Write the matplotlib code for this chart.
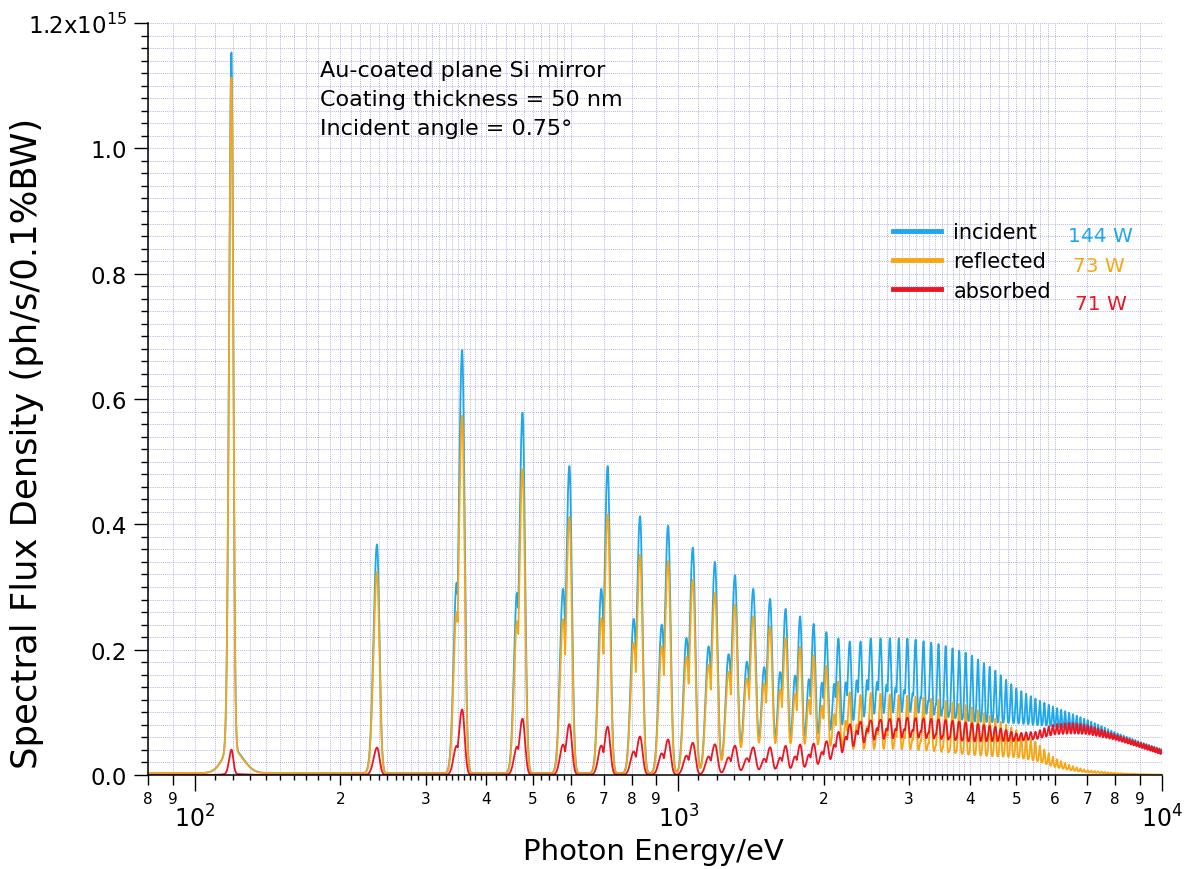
import numpy as np
import matplotlib
matplotlib.use("Agg")
import matplotlib.pyplot as plt
from matplotlib.ticker import FixedLocator, FixedFormatter

# ---- values (flux in units of 1e15 ph/s/0.1%BW) ----
E1_EV = 119.0  # fundamental harmonic energy

# incident peak height of harmonics n = 1..20
INC_PEAK_LOW = [1.15, 0.365, 0.675, 0.575, 0.49, 0.49, 0.41, 0.395, 0.36, 0.337,
                0.316, 0.294, 0.278, 0.262, 0.25, 0.238, 0.225, 0.215, 0.21, 0.21]
# relative height of the low-energy shoulder of each harmonic, n = 1..20
SHOULDER_LOW = [0.0, 0.0, 0.45, 0.5, 0.6, 0.6, 0.6, 0.6, 0.6, 0.6,
                0.6, 0.6, 0.6, 0.6, 0.6, 0.6, 0.6, 0.6, 0.6, 0.6]

# incident peak envelope above n = 20
ENV_E = [2400, 3000, 3500, 4000, 4500, 5000, 5500, 6000, 6500, 7000, 7500, 8000, 9000, 10000]
ENV_PEAK = [0.215, 0.215, 0.205, 0.19, 0.165, 0.135, 0.118, 0.105, 0.095, 0.085, 0.075,
            0.065, 0.05, 0.038]

# incident floor between overlapping harmonics
FLOOR_E = [1200, 1500, 1800, 2000, 2200, 2500, 3000, 4000, 5000, 6000, 7000, 8000, 9000, 10000]
FLOOR = [0.0, 0.008, 0.018, 0.03, 0.05, 0.07, 0.08, 0.08, 0.078, 0.074, 0.066, 0.055,
         0.042, 0.03]

# mirror reflectivity (reflected / incident)
REFL_E = [80, 119, 240, 360, 470, 600, 1000, 1500, 2000, 2150, 2300, 2500, 3000, 4000,
          4500, 5000, 5500, 6000, 6500, 7000, 8000, 9000, 10000]
REFL_R = [0.97, 0.965, 0.88, 0.845, 0.845, 0.835, 0.86, 0.85, 0.78, 0.68, 0.6, 0.6, 0.58,
          0.57, 0.54, 0.52, 0.43, 0.25, 0.15, 0.09, 0.05, 0.03, 0.02]
# reflectivity is lower between overlapping harmonics
DIP_E = [1800, 2500, 10000]
DIP = [0.0, 0.35, 0.35]

SERIES = ["incident", "reflected", "absorbed"]
POWER = ["144 W", "73 W", "71 W"]
COLORS = ["#1ea8ec", "#f7a614", "#ec1620"]
NOTE = ["Au-coated plane Si mirror", "Coating thickness = 50 nm", "Incident angle = 0.75\u00b0"]

Y_TICKS = [0.0, 0.2, 0.4, 0.6, 0.8, 1.0, 1.2]
Y_LABELS = ["0.0", "0.2", "0.4", "0.6", "0.8", "1.0", r"1.2x10$^{\mathregular{15}}$"]
X_DECADES = [1e2, 1e3, 1e4]
X_DIGITS = [80, 90] + [m * d for d in (100, 1000) for m in range(2, 10)]
X_SUBS = [1.1, 1.2, 1.3, 1.4, 1.5, 1.6, 1.7, 1.8, 1.9, 2.1, 2.2, 2.3, 2.4, 2.5, 2.6, 2.7,
          2.8, 2.9, 3.1, 3.2, 3.3, 3.4, 3.5, 3.6, 3.7, 3.8, 3.9, 4.2, 4.4, 4.6, 4.8, 5.2,
          5.4, 5.6, 5.8]

BASE_AMP = 0.04  # broad base under the fundamental


def loginterp(e, xp, fp):
    return np.interp(np.log10(e), np.log10(xp), fp)


def line_shape(E, n):
    # asymmetric harmonic line: sharp high-energy edge, shoulder on the low side
    d = E / (n * E1_EV) - 1.0
    k = min(1.0, 12.0 / n)
    if n == 1:
        s_hi, s_lo = 0.009, 0.011
    else:
        s_hi, s_lo = 0.012 * k, 0.016 * k
    y = np.where(d > 0, np.exp(-0.5 * (d / s_hi) ** 2), np.exp(-0.5 * (d / s_lo) ** 2))
    if n <= len(SHOULDER_LOW):
        sh = SHOULDER_LOW[n - 1]
    else:
        sh = max(0.0, 0.6 * (35 - n) / 15)
    if sh > 0:
        off = 0.026 if n <= 4 else 0.03
        y = np.maximum(y, sh * np.exp(-0.5 * ((d + off * k) / (0.014 * k)) ** 2))
    return y


def build_spectra(E):
    floor = np.where(E < FLOOR_E[0], 0.0, loginterp(E, FLOOR_E, FLOOR))
    inc = floor.copy()
    comb = np.zeros_like(E)
    n_max = int(1e4 / E1_EV) + 2
    for n in range(1, n_max + 1):
        En = n * E1_EV
        amp = INC_PEAK_LOW[n - 1] if n <= len(INC_PEAK_LOW) else loginterp(En, ENV_E, ENV_PEAK)
        f0 = 0.0 if En < FLOOR_E[0] else loginterp(En, FLOOR_E, FLOOR)
        if n == 1:
            amp -= BASE_AMP
        shape = line_shape(E, n)
        inc += max(amp - f0, 0.0) * shape
        comb += shape
    d1 = E / E1_EV - 1.0
    inc += BASE_AMP * np.where(d1 > 0, np.exp(-0.5 * (d1 / 0.055) ** 2),
                               np.exp(-0.5 * (d1 / 0.04) ** 2))
    inc += 0.003
    comb = np.clip(comb, 0, 1)
    dip = np.where(E < DIP_E[0], 0.0, loginterp(E, DIP_E, DIP))
    R = loginterp(E, REFL_E, REFL_R) * (1 - dip * (1 - comb))
    refl = inc * R
    absb = inc - refl
    return inc * 1e15, refl * 1e15, absb * 1e15


def main():
    plt.rcParams["font.family"] = ["DejaVu Sans"]
    plt.rcParams["mathtext.default"] = "regular"

    W, H = 1184, 870
    fig = plt.figure(figsize=(W / 100, H / 100), dpi=100)
    ax = fig.add_axes([148 / W, 1 - 776 / H, (1162 - 148) / W, (776 - 24) / H])

    E = np.geomspace(80, 1e4, 30000)
    curves = build_spectra(E)
    handles = []
    for y, c, lab in zip(curves, COLORS, SERIES):
        h, = ax.plot(E, y, color=c, lw=1.3, label=lab)
        handles.append(h)

    ax.set_xscale("log")
    ax.set_xlim(80, 1e4)
    ax.set_ylim(0, 1.2e15)

    # ---- y axis ----
    ax.yaxis.set_major_locator(FixedLocator([v * 1e15 for v in Y_TICKS]))
    ax.yaxis.set_major_formatter(FixedFormatter(Y_LABELS))
    ax.yaxis.set_minor_locator(FixedLocator(np.arange(0, 1.2001, 0.02) * 1e15))
    ax.tick_params(axis="y", which="major", length=10, width=1, labelsize=16.5, pad=5)
    ax.tick_params(axis="y", which="minor", length=5, width=1)

    # ---- x axis: decades, digits, sub ticks ----
    minors = sorted(X_DIGITS + [m * d for d in (100, 1000) for m in X_SUBS])
    minor_labels = []
    for v in minors:
        if v in X_DIGITS:
            minor_labels.append(str(int(round(v / 10 ** np.floor(np.log10(v))))))
        else:
            minor_labels.append("")
    ax.xaxis.set_major_locator(FixedLocator(X_DECADES))
    ax.xaxis.set_major_formatter(FixedFormatter([r"10$^{%d}$" % int(np.log10(v)) for v in X_DECADES]))
    ax.xaxis.set_minor_locator(FixedLocator(minors))
    ax.xaxis.set_minor_formatter(FixedFormatter(minor_labels))
    ax.tick_params(axis="x", which="major", length=11.5, width=1, labelsize=17, pad=10)
    ax.tick_params(axis="x", which="minor", length=7.2, width=1, labelsize=11, pad=4.5)
    for tk, v in zip(ax.xaxis.get_minor_ticks(len(minors)), minors):
        if v not in X_DIGITS:
            tk.tick1line.set_markersize(3.6)

    for side in ("top", "right"):
        ax.spines[side].set_visible(False)
    for side in ("left", "bottom"):
        ax.spines[side].set_linewidth(1.1)

    ax.set_axisbelow(True)
    ax.grid(which="both", color="#9a9ade", ls=(0, (1, 1.5)), lw=0.6)

    # ---- labels ----
    fig.text(27 / W, 1 - 443 / H, "Spectral Flux Density (ph/s/0.1%BW)", rotation=90,
             ha="center", va="center", fontsize=25.5)
    fig.text(653 / W, 1 - 852 / H, "Photon Energy/eV", ha="center", va="center", fontsize=21)

    for i, s in enumerate(NOTE):
        fig.text(320 / W, 1 - (71 + 29 * i) / H, s, ha="left", va="center", fontsize=16)

    leg = ax.legend(handles=handles, loc="upper left", bbox_to_anchor=(893 / W, 1 - 223 / H),
                    bbox_transform=fig.transFigure, frameon=False, fontsize=15,
                    borderpad=0, borderaxespad=0, handlelength=2.3, handletextpad=0.6,
                    labelspacing=0.45)
    for lh in leg.legend_handles:
        lh.set_linewidth(3.5)

    power_pos = [(1068, 236), (1073, 267), (1075, 304)]
    for (px, py), s, c in zip(power_pos, POWER, COLORS):
        fig.text(px / W, 1 - py / H, s, color=c, ha="left", va="center", fontsize=14.5)

    fig.savefig("out.png", dpi=100)


if __name__ == "__main__":
    main()
